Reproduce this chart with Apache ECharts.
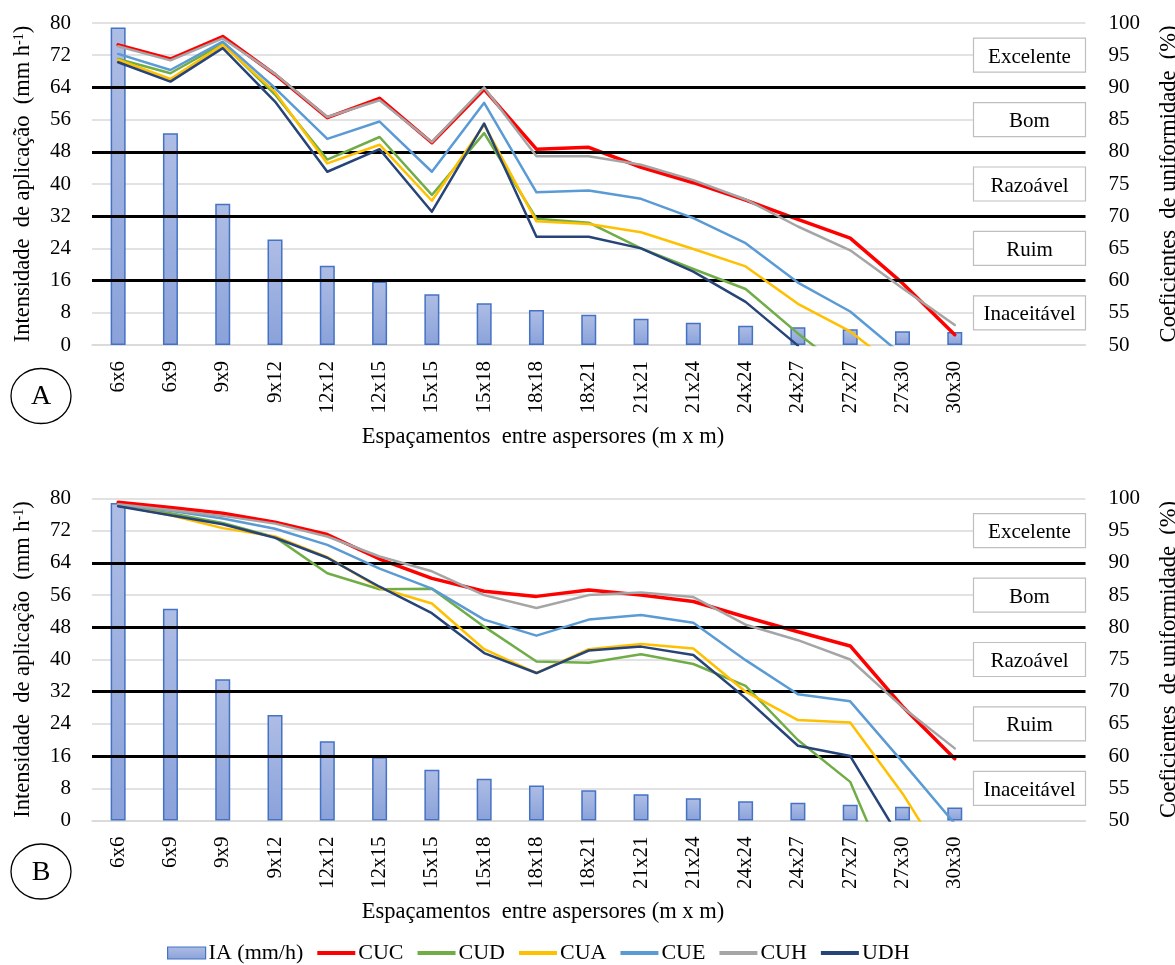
<!DOCTYPE html>
<html>
<head>
<meta charset="utf-8">
<script src="https://cdn.jsdelivr.net/npm/echarts@6/dist/echarts.min.js"></script>
<style>
  html, body { margin: 0; padding: 0; background: #fff; }
  #chart { width: 1175px; height: 965px; }
</style>
</head>
<body>
<div id="chart"></div>
<script>
// Sprinkler spacings (m x m)
const categories = ['6x6', '6x9', '9x9', '9x12', '12x12', '12x15', '15x15', '15x18', '18x18',
  '18x21', '21x21', '21x24', '24x24', '24x27', '27x27', '27x30', '30x30'];

// Application intensity, mm/h (left axis)
const iaValues = [78.9, 52.6, 35.1, 26.2, 19.7, 15.8, 12.6, 10.4, 8.7, 7.5, 6.5, 5.5, 4.8, 4.4, 3.9, 3.4, 3.2];

// Uniformity coefficients (%), panel A
const cucA = [96.6, 94.4, 97.9, 92.0, 85.3, 88.3, 81.4, 89.7, 80.4, 80.7, 77.6, 75.2, 72.5, 69.5, 66.6, 59.6, 51.6];
const cudA = [94.4, 92.2, 96.8, 88.9, 78.8, 82.3, 73.3, 82.9, 69.6, 69.0, 65.0, 61.8, 58.7, 51.8, 45.5, null, null];
const cuaA = [94.3, 91.3, 96.6, 89.3, 78.2, 81.1, 72.4, 84.2, 69.2, 68.8, 67.5, 64.9, 62.2, 56.4, 52.1, 45.8, null];
const cueA = [95.2, 92.7, 97.1, 89.9, 82.0, 84.7, 76.9, 87.6, 73.7, 74.0, 72.7, 69.7, 65.8, 59.7, 55.2, 48.4, null];
const cuhA = [96.4, 94.2, 97.6, 92.1, 85.4, 88.0, 81.5, 90.0, 79.3, 79.3, 78.0, 75.6, 72.6, 68.4, 64.7, 58.8, 53.1];
const udhA = [93.9, 90.9, 96.1, 87.8, 76.9, 80.4, 70.7, 84.4, 66.8, 66.8, 65.0, 61.4, 56.7, 49.9, null, null, null];

// Uniformity coefficients (%), panel B
const cucB = [99.4, 98.6, 97.7, 96.3, 94.4, 90.6, 87.6, 85.6, 84.8, 85.8, 85.0, 84.0, 81.6, 79.3, 77.1, 67.7, 59.6];
const cudB = [98.9, 97.7, 96.2, 94.0, 88.4, 85.9, 86.0, 80.1, 74.7, 74.5, 75.8, 74.3, 70.9, 62.5, 56.0, 37.0, null];
const cuaB = [98.9, 97.4, 95.4, 94.1, 90.9, 86.1, 83.7, 76.6, 72.9, 76.6, 77.4, 76.7, 70.0, 65.6, 65.2, 54.2, 41.3];
const cueB = [99.0, 98.1, 96.9, 95.3, 92.8, 89.1, 86.0, 81.2, 78.7, 81.2, 81.9, 80.7, 74.9, 69.6, 68.5, 59.1, 49.5];
const cuhB = [99.1, 98.2, 97.3, 96.1, 94.1, 91.0, 88.7, 85.0, 83.0, 85.0, 85.4, 84.7, 80.4, 78.0, 75.0, 67.6, 61.2];
const udhB = [98.8, 97.4, 96.0, 93.9, 90.8, 86.3, 82.2, 76.0, 72.9, 76.4, 77.0, 75.7, 69.0, 61.6, 60.0, 46.6, null];

// Uniformity classes: limits drawn as black lines, names boxed between them
const classLimits = [90, 80, 70, 60];
const classNames = ['Excelente', 'Bom', 'Razoável', 'Ruim', 'Inaceitável'];
const classCenters = [95, 85, 75, 65, 55];

// Axis ranges
const iaAxis = { min: 0, max: 80, interval: 8 };
const cuAxis = { min: 50, max: 100, interval: 5 };

const seriesNames = ['CUC', 'CUD', 'CUA', 'CUE', 'CUH', 'UDH'];
const seriesColors = ['#ff0000', '#70ad47', '#ffc000', '#5b9bd5', '#a5a5a5', '#264478'];
const seriesWidths = [3.5, 2.5, 2.5, 2.5, 2.5, 2.5];
const barName = 'IA (mm/h)';

const panels = [
  { tag: 'A', top: 23, lines: [cucA, cudA, cuaA, cueA, cuhA, udhA] },
  { tag: 'B', top: 498.5, lines: [cucB, cudB, cuaB, cueB, cuhB, udhB] }
];

const FONT = 'Liberation Serif';
const GRID_LEFT = 92;
const GRID_WIDTH = 993.5;
const GRID_HEIGHT = 322;
// two empty slots keep room for the class boxes on the right
const axisCategories = categories.concat(['', '']);

const barFill = new echarts.graphic.LinearGradient(0, 0, 0, 1, [
  { offset: 0, color: '#aebde5' },
  { offset: 1, color: '#8aa2da' }
]);

const grids = [], xAxes = [], yAxes = [], series = [], graphics = [];

panels.forEach((p, i) => {
  grids.push({ left: GRID_LEFT, top: p.top, width: GRID_WIDTH, height: GRID_HEIGHT,
    containLabel: false, outerBoundsMode: 'none' });

  xAxes.push({
    type: 'category', gridIndex: i, data: axisCategories, boundaryGap: true,
    axisLine: { show: true, lineStyle: { color: '#d9d9d9', width: 1.5 } },
    axisTick: { show: false },
    axisLabel: { rotate: 90, margin: 16, interval: 0, color: '#000', fontFamily: FONT, fontSize: 21 },
    splitLine: { show: false }
  });

  yAxes.push({
    type: 'value', gridIndex: i, position: 'left',
    min: iaAxis.min, max: iaAxis.max, interval: iaAxis.interval,
    name: 'Intensidade  de aplicação  (mm h{sup|-1})',
    nameLocation: 'middle', nameRotate: 90, nameGap: 57,
    nameTextStyle: { color: '#000', fontFamily: FONT, fontSize: 22.5,
      rich: { sup: { fontFamily: FONT, fontSize: 14, verticalAlign: 'top', color: '#000' } } },
    axisLine: { show: false }, axisTick: { show: false },
    axisLabel: { margin: 21, color: '#000', fontFamily: FONT, fontSize: 21 },
    splitLine: { show: true, lineStyle: { color: '#d9d9d9', width: 1.5 } }
  });

  yAxes.push({
    type: 'value', gridIndex: i, position: 'right',
    min: cuAxis.min, max: cuAxis.max, interval: cuAxis.interval,
    name: 'Coeficientes  de uniformidade  (%)',
    nameLocation: 'middle', nameRotate: 90, nameGap: 72,
    nameTextStyle: { color: '#000', fontFamily: FONT, fontSize: 22.5 },
    axisLine: { show: false }, axisTick: { show: false },
    axisLabel: { margin: 23, color: '#000', fontFamily: FONT, fontSize: 21 },
    splitLine: { show: false }
  });

  series.push({
    name: barName, type: 'bar', xAxisIndex: i, yAxisIndex: 2 * i,
    data: iaValues, barWidth: 15, z: 2,
    itemStyle: { color: barFill, borderColor: '#4472c4', borderWidth: 1.5 }
  });

  // class limits as thick black rules across the plot
  series.push({
    type: 'line', xAxisIndex: i, yAxisIndex: 2 * i + 1, data: [], z: 3, silent: true,
    markLine: {
      silent: true, symbol: 'none', label: { show: false },
      lineStyle: { color: '#000', width: 3, type: 'solid' },
      data: classLimits.map(v => ({ yAxis: v }))
    }
  });

  p.lines.forEach((vals, k) => {
    series.push({
      name: seriesNames[k], type: 'line', xAxisIndex: i, yAxisIndex: 2 * i + 1,
      data: vals, symbol: 'none', showSymbol: false, clip: true, z: 4 + k,
      color: seriesColors[k],
      lineStyle: { color: seriesColors[k], width: seriesWidths[k], cap: 'round', join: 'round' }
    });
  });

  const nameY = p.top + GRID_HEIGHT + 92;
  graphics.push({
    type: 'text', x: 543, y: nameY,
    style: { text: 'Espaçamentos  entre aspersores (m x m)', fontFamily: FONT, fontSize: 22.5,
      fill: '#000', align: 'center', verticalAlign: 'middle' }
  });
  const tagY = p.top + GRID_HEIGHT + 51;
  graphics.push({
    type: 'ellipse', shape: { cx: 41, cy: tagY, rx: 30, ry: 27.5 },
    style: { fill: '#fff', stroke: '#000', lineWidth: 1.3 }
  });
  graphics.push({
    type: 'text', x: 41, y: tagY + 1,
    style: { text: p.tag, fontFamily: FONT, fontSize: 28, fill: '#000', align: 'center', verticalAlign: 'middle' }
  });
});

const chart = echarts.init(document.getElementById('chart'), null, { renderer: 'canvas' });

const legendItems = [{
  name: barName, icon: 'rect',
  itemStyle: { opacity: 1, color: barFill, borderColor: '#4472c4', borderWidth: 1.2 }
}].concat(seriesNames.map((n, k) => ({
  name: n,
  itemStyle: { opacity: 0 },
  lineStyle: { color: seriesColors[k], width: 4, cap: 'butt' }
})));

chart.setOption({
  animation: false,
  backgroundColor: '#fff',
  grid: grids,
  xAxis: xAxes,
  yAxis: yAxes,
  legend: {
    data: legendItems,
    left: 162, top: 937,
    itemWidth: 38, itemHeight: 12, itemGap: 12,
    textStyle: { color: '#000', fontFamily: FONT, fontSize: 22, padding: [0, 0, 0, -2] }
  },
  series: series
});

// class boxes placed on the uniformity scale of each panel
const BOX_W = 112, BOX_H = 34;
panels.forEach((p, i) => {
  classNames.forEach((label, c) => {
    const cy = chart.convertToPixel({ yAxisIndex: 2 * i + 1 }, classCenters[c]);
    const right = GRID_LEFT + GRID_WIDTH;
    graphics.push({
      type: 'group', z: 50,
      children: [
        { type: 'rect', shape: { x: right - BOX_W, y: cy - BOX_H / 2, width: BOX_W, height: BOX_H },
          style: { fill: '#fff', stroke: '#bfbfbf', lineWidth: 1.2 } },
        { type: 'text', x: right - BOX_W / 2, y: cy + 2,
          style: { text: label, fontFamily: FONT, fontSize: 21, fill: '#000', align: 'center', verticalAlign: 'middle' } }
      ]
    });
  });
});

chart.setOption({ graphic: graphics });
</script>
</body>
</html>
